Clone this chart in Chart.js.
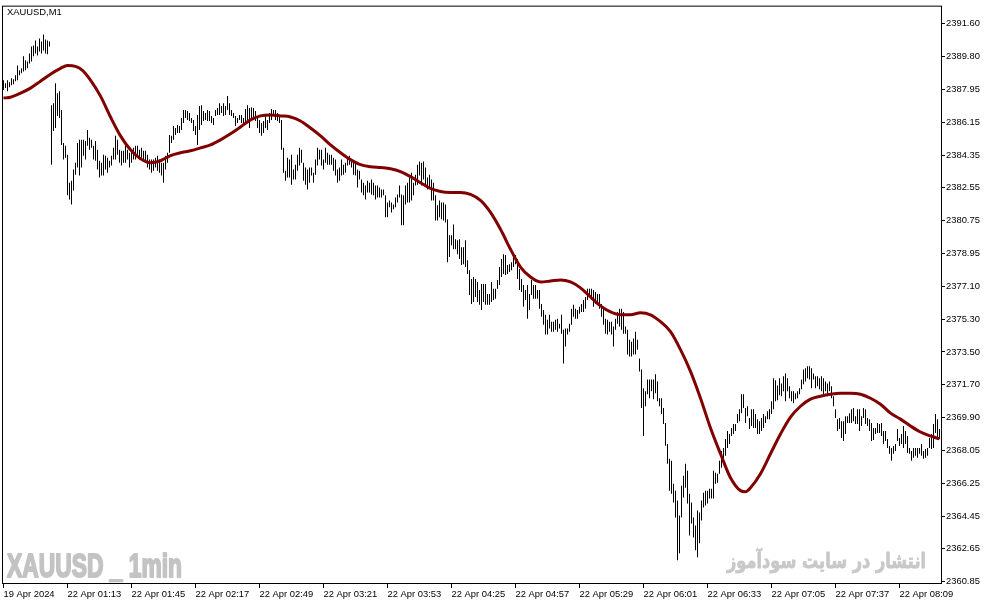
<!DOCTYPE html>
<html>
<head>
<meta charset="utf-8">
<title>XAUUSD,M1</title>
<script src="https://cdn.jsdelivr.net/npm/chart.js@4.4.1/dist/chart.umd.min.js"></script>
<style>
  html, body { margin: 0; padding: 0; background: #fff; }
</style>
</head>
<body>
<canvas id="myChart" width="987" height="605"></canvas>
<script>
// XAUUSD M1 bars (high / low per minute bar)
const highs = [
  2388.48, 2388.31, 2388.48, 2388.37, 2388.59, 2388.53, 2388.75, 2389.29, 2389.02, 2389.13,
  2389.79, 2389.57, 2389.51, 2389.95, 2390.34, 2390.39, 2390.67, 2390.34, 2390.78, 2390.61,
  2391.00, 2390.72, 2390.67, 2390.61, 2387.10, 2387.21, 2388.31, 2387.76, 2387.87, 2386.83,
  2385.02, 2384.86, 2384.37, 2382.83, 2382.94, 2383.55, 2383.93, 2385.02, 2385.19, 2385.19,
  2385.19, 2385.13, 2385.73, 2385.30, 2385.19, 2384.86, 2385.13, 2384.64, 2384.04, 2383.93,
  2384.37, 2384.32, 2384.21, 2384.04, 2384.32, 2384.75, 2385.41, 2385.19, 2384.64, 2384.59,
  2384.59, 2384.86, 2384.64, 2384.48, 2384.64, 2384.75, 2384.86, 2384.86, 2384.64, 2384.75,
  2384.59, 2384.59, 2384.37, 2384.10, 2384.10, 2384.10, 2384.21, 2384.32, 2384.10, 2383.93,
  2383.93, 2384.32, 2384.48, 2385.46, 2385.41, 2385.95, 2385.84, 2386.01, 2385.95, 2386.40,
  2386.83, 2386.83, 2386.78, 2386.67, 2386.40, 2386.29, 2385.95, 2386.56, 2387.05, 2387.10,
  2386.78, 2386.67, 2386.83, 2386.78, 2386.51, 2386.40, 2386.83, 2386.94, 2387.21, 2387.05,
  2387.21, 2387.05, 2387.60, 2387.21, 2386.83, 2386.67, 2386.51, 2386.40, 2386.56, 2386.56,
  2386.40, 2386.89, 2387.10, 2386.94, 2386.99, 2386.94, 2386.78, 2386.51, 2386.29, 2386.12,
  2386.23, 2386.56, 2386.29, 2386.67, 2386.89, 2386.83, 2386.83, 2386.67, 2386.56, 2386.29,
  2384.75, 2383.49, 2384.21, 2384.10, 2384.37, 2383.55, 2383.82, 2384.37, 2384.75, 2384.64,
  2383.93, 2383.66, 2383.55, 2383.66, 2383.66, 2383.38, 2384.10, 2384.75, 2384.64, 2384.64,
  2384.10, 2384.75, 2384.48, 2384.37, 2384.37, 2384.21, 2384.10, 2383.55, 2383.66, 2384.10,
  2383.82, 2383.93, 2384.21, 2384.32, 2384.10, 2383.93, 2383.99, 2383.55, 2383.49, 2383.00,
  2382.83, 2382.67, 2382.94, 2382.83, 2383.00, 2382.83, 2382.67, 2382.67, 2382.56, 2382.45,
  2382.45, 2382.13, 2381.74, 2381.85, 2381.74, 2381.63, 2382.01, 2382.18, 2382.67, 2382.18,
  2382.13, 2382.67, 2382.83, 2383.11, 2383.38, 2382.83, 2383.27, 2383.82, 2383.99, 2383.93,
  2383.99, 2383.66, 2383.11, 2383.27, 2383.00, 2382.83, 2382.13, 2381.58, 2381.85, 2381.74,
  2381.74, 2381.63, 2380.81, 2379.93, 2379.93, 2380.53, 2379.71, 2379.66, 2379.71, 2379.27,
  2379.27, 2379.66, 2378.56, 2378.01, 2377.52, 2377.63, 2377.52, 2377.36, 2376.92, 2377.25,
  2377.25, 2377.25, 2376.70, 2376.70, 2377.36, 2376.98, 2376.98, 2377.47, 2378.18, 2378.62,
  2378.89, 2378.84, 2378.29, 2378.34, 2378.45, 2378.84, 2378.84, 2378.62, 2378.07, 2377.52,
  2377.19, 2376.92, 2377.19, 2376.70, 2377.47, 2377.19, 2377.19, 2376.92, 2376.92, 2376.15,
  2375.82, 2375.55, 2375.28, 2375.55, 2375.17, 2375.17, 2375.28, 2375.33, 2375.06, 2375.55,
  2374.73, 2374.79, 2374.79, 2375.06, 2375.88, 2376.10, 2375.88, 2375.82, 2375.99, 2376.15,
  2376.37, 2376.53, 2376.98, 2376.98, 2376.98, 2376.92, 2376.81, 2376.70, 2376.70, 2376.15,
  2375.88, 2375.33, 2375.28, 2375.17, 2375.17, 2374.90, 2375.33, 2375.71, 2375.88, 2375.88,
  2375.71, 2374.90, 2374.73, 2374.18, 2374.07, 2374.24, 2374.62, 2374.18, 2373.14, 2372.54,
  2371.50, 2371.33, 2371.99, 2371.99, 2371.99, 2371.99, 2372.27, 2371.88, 2370.95, 2370.95,
  2370.41, 2369.58, 2368.43, 2367.61, 2367.50, 2366.24, 2365.86, 2365.31, 2364.49, 2366.13,
  2366.68, 2367.34, 2366.95, 2365.69, 2365.20, 2364.38, 2363.94, 2364.76, 2364.65, 2365.31,
  2365.75, 2365.86, 2365.86, 2365.97, 2365.97, 2366.95, 2366.84, 2366.79, 2367.50, 2368.05,
  2368.21, 2368.71, 2369.14, 2368.98, 2369.31, 2369.53, 2369.53, 2370.08, 2370.35, 2371.17,
  2371.17, 2370.41, 2370.51, 2369.86, 2370.35, 2370.35, 2370.08, 2369.80, 2369.69, 2369.86,
  2370.08, 2369.96, 2370.24, 2370.35, 2370.79, 2372.05, 2371.94, 2371.66, 2372.05, 2371.77,
  2372.16, 2372.32, 2372.05, 2371.61, 2371.33, 2371.33, 2371.22, 2371.33, 2371.50, 2371.99,
  2372.54, 2372.60, 2372.71, 2372.71, 2372.60, 2372.32, 2372.16, 2372.16, 2372.05, 2372.16,
  2372.05, 2371.88, 2371.77, 2371.88, 2371.61, 2371.06, 2370.35, 2369.80, 2369.86, 2369.69,
  2369.69, 2369.96, 2369.96, 2370.13, 2370.35, 2370.41, 2369.96, 2370.35, 2370.35, 2369.96,
  2370.41, 2370.35, 2369.86, 2369.80, 2369.58, 2369.31, 2369.31, 2369.58, 2369.53, 2369.58,
  2369.14, 2369.14, 2368.71, 2368.32, 2368.21, 2368.32, 2368.43, 2369.25, 2368.76, 2368.98,
  2369.42, 2369.14, 2368.87, 2368.21, 2368.05, 2368.21, 2368.21, 2368.21, 2368.21, 2368.43,
  2368.05, 2368.16, 2368.21, 2368.76, 2368.98, 2369.53, 2370.08, 2369.80, 2369.25
];
const lows = [
  2387.93, 2388.04, 2387.87, 2388.09, 2388.20, 2388.26, 2388.42, 2388.48, 2388.75, 2388.86,
  2388.96, 2389.02, 2389.13, 2389.40, 2389.51, 2389.79, 2389.95, 2389.84, 2390.06, 2389.95,
  2390.12, 2389.95, 2389.90, 2390.34, 2383.82, 2385.68, 2385.84, 2386.51, 2386.40, 2384.91,
  2384.10, 2384.21, 2382.13, 2381.90, 2381.63, 2382.40, 2383.27, 2383.66, 2383.22, 2383.66,
  2384.32, 2384.10, 2384.86, 2384.64, 2384.75, 2384.10, 2384.04, 2383.55, 2383.11, 2383.22,
  2383.22, 2383.55, 2383.38, 2383.66, 2383.77, 2384.10, 2384.10, 2384.37, 2383.93, 2383.77,
  2383.93, 2383.93, 2384.10, 2383.66, 2383.93, 2384.10, 2384.10, 2384.37, 2384.10, 2384.21,
  2384.10, 2383.93, 2383.66, 2383.55, 2383.38, 2383.49, 2383.66, 2383.49, 2383.38, 2383.22,
  2382.83, 2383.55, 2383.93, 2384.48, 2385.02, 2385.19, 2385.46, 2385.57, 2385.57, 2385.73,
  2386.12, 2386.40, 2386.29, 2386.23, 2386.12, 2385.68, 2385.46, 2384.91, 2385.73, 2386.01,
  2386.23, 2386.29, 2386.23, 2386.23, 2386.12, 2386.01, 2386.51, 2386.56, 2386.56, 2386.67,
  2386.51, 2386.56, 2386.83, 2386.56, 2386.51, 2386.40, 2385.95, 2386.12, 2386.29, 2386.12,
  2385.95, 2386.12, 2386.29, 2385.84, 2386.23, 2386.40, 2386.23, 2385.84, 2385.57, 2385.41,
  2385.57, 2385.84, 2385.73, 2386.12, 2386.29, 2386.51, 2386.29, 2386.23, 2386.12, 2384.64,
  2383.38, 2382.94, 2383.11, 2383.11, 2382.72, 2383.00, 2383.00, 2383.49, 2383.77, 2383.93,
  2382.94, 2382.72, 2382.45, 2382.83, 2383.22, 2382.83, 2383.27, 2383.77, 2384.10, 2383.77,
  2383.55, 2383.93, 2383.82, 2383.82, 2383.82, 2383.49, 2383.22, 2382.83, 2382.94, 2383.22,
  2383.27, 2383.38, 2383.77, 2383.82, 2383.66, 2383.27, 2383.22, 2382.56, 2383.00, 2382.29,
  2382.13, 2381.90, 2382.29, 2382.29, 2382.18, 2382.13, 2381.90, 2382.01, 2382.01, 2382.01,
  2382.13, 2380.92, 2380.92, 2381.47, 2381.19, 2381.36, 2381.47, 2381.74, 2382.01, 2380.48,
  2380.48, 2381.63, 2381.74, 2381.74, 2381.85, 2382.13, 2382.67, 2382.72, 2383.22, 2382.67,
  2383.00, 2382.72, 2382.45, 2382.56, 2381.85, 2381.85, 2380.75, 2380.75, 2380.92, 2380.81,
  2380.75, 2380.64, 2378.45, 2378.73, 2379.38, 2379.16, 2379.16, 2378.89, 2378.62, 2378.29,
  2378.34, 2378.18, 2377.80, 2376.64, 2376.15, 2376.26, 2376.53, 2376.26, 2376.10, 2375.82,
  2376.26, 2376.10, 2376.10, 2376.10, 2376.26, 2376.37, 2376.43, 2376.98, 2377.19, 2377.63,
  2377.80, 2377.74, 2377.80, 2377.91, 2378.01, 2378.18, 2378.34, 2377.52, 2376.92, 2376.81,
  2375.99, 2376.37, 2375.33, 2375.82, 2376.64, 2376.43, 2376.43, 2376.43, 2375.88, 2375.44,
  2375.00, 2374.46, 2374.46, 2374.79, 2374.62, 2374.62, 2374.73, 2374.62, 2374.79, 2374.51,
  2372.87, 2373.80, 2374.46, 2374.62, 2375.00, 2375.44, 2375.33, 2375.33, 2375.60, 2375.71,
  2375.71, 2375.88, 2376.37, 2376.53, 2376.37, 2375.99, 2376.15, 2376.10, 2375.88, 2375.44,
  2375.00, 2374.51, 2374.46, 2374.62, 2374.46, 2373.80, 2374.73, 2375.06, 2374.90, 2374.73,
  2374.51, 2374.51, 2373.36, 2373.25, 2373.25, 2373.36, 2373.36, 2373.63, 2372.43, 2370.41,
  2368.87, 2370.51, 2371.17, 2370.95, 2371.33, 2370.90, 2371.22, 2370.79, 2370.51, 2370.08,
  2369.53, 2368.33, 2367.34, 2365.86, 2365.69, 2365.20, 2364.38, 2362.03, 2362.41, 2364.38,
  2365.48, 2366.02, 2365.15, 2363.39, 2364.05, 2363.28, 2362.57, 2362.19, 2362.96, 2364.22,
  2364.93, 2365.04, 2365.15, 2365.42, 2365.42, 2365.42, 2366.24, 2366.30, 2366.79, 2367.12,
  2367.50, 2367.78, 2368.21, 2368.43, 2368.87, 2368.98, 2369.14, 2369.58, 2369.69, 2370.13,
  2370.41, 2369.58, 2369.96, 2369.25, 2369.42, 2369.31, 2369.31, 2368.98, 2368.98, 2369.14,
  2369.31, 2369.58, 2369.80, 2369.80, 2370.08, 2370.35, 2370.79, 2370.84, 2371.11, 2371.06,
  2371.33, 2370.79, 2371.33, 2370.95, 2370.79, 2370.68, 2370.90, 2370.95, 2371.17, 2371.44,
  2371.72, 2371.88, 2372.05, 2371.99, 2371.50, 2371.99, 2371.50, 2371.61, 2371.44, 2371.33,
  2371.17, 2371.33, 2371.06, 2371.33, 2370.95, 2370.51, 2369.86, 2369.14, 2369.25, 2368.76,
  2368.60, 2368.98, 2369.58, 2369.58, 2369.58, 2369.69, 2369.53, 2369.53, 2369.14, 2369.42,
  2369.86, 2369.53, 2369.42, 2369.14, 2368.60, 2368.65, 2368.98, 2369.03, 2369.03, 2368.87,
  2368.43, 2368.60, 2368.21, 2367.89, 2367.50, 2367.89, 2368.05, 2368.60, 2368.32, 2368.43,
  2368.21, 2368.43, 2367.94, 2367.89, 2367.50, 2367.67, 2367.78, 2367.67, 2367.89, 2367.78,
  2367.61, 2367.67, 2367.78, 2368.21, 2368.16, 2368.21, 2369.03, 2368.76, 2368.71
];

// moving average, read at the bar numbers in maBars
const maBars = [
  0, 3.5, 8.5, 13.5, 18.5, 23.5, 28.5, 32, 36, 39.5, 43.5, 48.5, 53.5, 58.5, 63.5, 68.5,
  73.5, 78.5, 83.5, 88.5, 93.5, 98.5, 103.5, 108.5, 113.5, 118.5, 123.5, 128.5, 133.5, 138.5,
  143.5, 148.5, 153.5, 158.5, 163.5, 168.5, 173.5, 178.5, 183.5, 188.5, 193.5, 198.5, 203.5,
  208.5, 213.5, 218.5, 223.5, 228.5, 233.5, 238.5, 243.5, 248.5, 253.5, 258.5, 263.5, 268.5,
  273.5, 278.5, 283.5, 288.5, 293.5, 298.5, 303.5, 308.5, 313.5, 318.5, 323.5, 328.5, 333.5,
  338.5, 343.5, 348.5, 353.5, 358.5, 363.5, 368.5, 371, 373.5, 378.5, 383.5, 388.5, 393.5,
  398.5, 403.5, 408.5, 413.5, 418.5, 423.5, 428.5, 433.5, 438.5, 443.5, 448.5, 453.5, 458.5,
  463.5, 468
];
const maValues = [
  2387.49, 2387.54, 2387.76, 2388.04, 2388.42, 2388.81, 2389.13, 2389.29, 2389.24, 2389.02,
  2388.48, 2387.60, 2386.45, 2385.41, 2384.64, 2384.15, 2383.93, 2384.04, 2384.32, 2384.48,
  2384.59, 2384.75, 2384.91, 2385.19, 2385.52, 2385.90, 2386.29, 2386.51, 2386.56, 2386.51,
  2386.45, 2386.23, 2385.84, 2385.41, 2384.91, 2384.48, 2384.10, 2383.82, 2383.71, 2383.66,
  2383.60, 2383.44, 2383.16, 2382.83, 2382.51, 2382.34, 2382.29, 2382.29, 2382.18, 2381.85,
  2381.19, 2380.26, 2379.16, 2378.18, 2377.63, 2377.36, 2377.41, 2377.47, 2377.36, 2377.03,
  2376.53, 2376.04, 2375.71, 2375.55, 2375.55, 2375.66, 2375.55, 2375.17, 2374.62, 2373.63,
  2372.43, 2370.95, 2369.31, 2367.89, 2366.57, 2365.86, 2365.80, 2366.02, 2366.79, 2367.89,
  2368.98, 2369.91, 2370.51, 2370.90, 2371.06, 2371.17, 2371.22, 2371.22, 2371.17, 2370.95,
  2370.62, 2370.13, 2369.80, 2369.42, 2369.09, 2368.87, 2368.71
];

// axis labels
const timeLabels = [
  "19 Apr 2024", "22 Apr 01:13", "22 Apr 01:45", "22 Apr 02:17", "22 Apr 02:49",
  "22 Apr 03:21", "22 Apr 03:53", "22 Apr 04:25", "22 Apr 04:57", "22 Apr 05:29",
  "22 Apr 06:01", "22 Apr 06:33", "22 Apr 07:05", "22 Apr 07:37", "22 Apr 08:09"
];
const timeTickBars = [0, 32, 64, 96, 128, 160, 192, 224, 256, 288, 320, 352, 384, 416, 448];
const priceTicks = [
  2391.60, 2389.80, 2387.95, 2386.15, 2384.35, 2382.55, 2380.75, 2378.95, 2377.10,
  2375.30, 2373.50, 2371.70, 2369.90, 2368.05, 2366.25, 2364.45, 2362.65, 2360.85
];

const symbolTitle = "XAUUSD,M1";
const markLeft = "XAUUSD _ 1min";
const markRight = "انتشار در سایت سودآموز";

Chart.defaults.font.family = "'Liberation Sans', Arial, sans-serif";
Chart.defaults.font.size = 9.4;
Chart.defaults.color = "#000";

// stretch a text to a given width (watermarks), with a stroke to make it heavier
function fitText(ctx, text, x, y, width, align, stroke) {
  const w = ctx.measureText(text).width;
  ctx.save();
  ctx.translate(x, y);
  ctx.scale(width / w, 1);
  ctx.textAlign = align;
  ctx.fillText(text, 0, 0);
  if (stroke) {
    ctx.strokeStyle = ctx.fillStyle;
    ctx.lineWidth = stroke;
    ctx.lineJoin = "round";
    ctx.strokeText(text, 0, 0);
  }
  ctx.restore();
}

const decor = {
  id: "decor",
  beforeDatasetsDraw(chart) {
    const ctx = chart.ctx;
    ctx.save();
    ctx.textBaseline = "alphabetic";
    ctx.fillStyle = "#c3c3c3";
    ctx.font = "bold 33px 'Liberation Sans', Arial, sans-serif";
    fitText(ctx, markLeft, 7, 577, 175, "left", 2);
    ctx.fillStyle = "#c8c8c8";
    ctx.direction = "rtl";
    ctx.font = "bold 21px 'DejaVu Sans', sans-serif";
    fitText(ctx, markRight, 926, 568, 199, "right", 0.8);
    ctx.restore();
  },
  afterDraw(chart) {
    const ctx = chart.ctx;
    const a = chart.chartArea;
    ctx.save();
    ctx.strokeStyle = "#000";
    ctx.lineWidth = 1;
    ctx.strokeRect(a.left - 0.5, a.top - 0.5, a.right - a.left + 1, a.bottom - a.top + 1);
    ctx.fillStyle = "#000";
    ctx.font = "9.4px 'Liberation Sans', Arial, sans-serif";
    ctx.textBaseline = "alphabetic";
    ctx.fillText(symbolTitle, 7, 14.5);
    ctx.restore();
  }
};

const ctx = document.getElementById("myChart").getContext("2d");
const chart = new Chart(ctx, {
  type: "bar",
  data: {
    datasets: [{
      type: "line",
      data: maBars.map((b, i) => ({ x: b, y: maValues[i] })),
      borderColor: "#800000",
      borderWidth: 3,
      pointRadius: 0,
      cubicInterpolationMode: "monotone",
      fill: false,
      order: 1
    }, {
      type: "bar",
      data: highs.map((h, i) => ({ x: i, y: [lows[i], h] })),
      backgroundColor: "#000",
      borderWidth: 0,
      barThickness: 1,
      inflateAmount: 0,
      grouped: false,
      order: 2
    }]
  },
  options: {
    responsive: false,
    animation: false,
    events: [],
    layout: { padding: { left: 3, top: 3, right: 0, bottom: 0 } },
    scales: {
      x: {
        type: "linear",
        min: -0.25,
        max: 468.75,
        offset: false,
        bounds: "data",
        afterBuildTicks: s => { s.ticks = timeTickBars.map(v => ({ value: v })); },
        afterFit: s => { s.height = 22; },
        grid: { drawOnChartArea: false, drawTicks: true, tickLength: 5, color: "#000", offset: false },
        border: { display: true, color: "#000" },
        ticks: {
          autoSkip: false, maxRotation: 0, minRotation: 0, align: "start", padding: 1,
          callback: (v, i) => timeLabels[i]
        }
      },
      y: {
        type: "linear",
        position: "right",
        min: 2360.77,
        max: 2392.53,
        bounds: "data",
        beginAtZero: false,
        afterBuildTicks: s => { s.ticks = priceTicks.map(v => ({ value: v })); },
        afterFit: s => { s.width = 46; },
        grid: { drawOnChartArea: false, drawTicks: true, tickLength: 4, color: "#000" },
        border: { display: true, color: "#000" },
        ticks: { padding: 1, callback: v => v.toFixed(2) }
      }
    },
    plugins: {
      legend: { display: false },
      tooltip: { enabled: false }
    }
  },
  plugins: [decor]
});
</script>
</body>
</html>
